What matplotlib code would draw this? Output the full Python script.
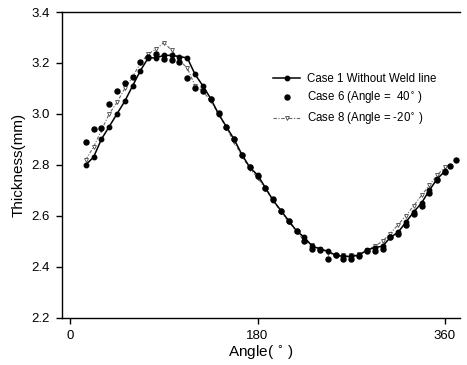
import numpy as np
import matplotlib.pyplot as plt

plt.rcParams['font.family'] = ['Liberation Sans', 'DejaVu Sans']

# thickness around the circumference, one point every 7.5 degrees
angle = [15, 22.5, 30, 37.5, 45, 52.5, 60, 67.5, 75, 82.5, 90, 97.5, 105,
         112.5, 120, 127.5, 135, 142.5, 150, 157.5, 165, 172.5, 180, 187.5,
         195, 202.5, 210, 217.5, 225, 232.5, 240, 247.5, 255, 262.5, 270,
         277.5, 285, 292.5, 300, 307.5, 315, 322.5, 330, 337.5, 345, 352.5, 360]

case1 = [2.80, 2.83, 2.90, 2.95, 3.00, 3.05, 3.11, 3.17, 3.22, 3.22, 3.23,
         3.23, 3.225, 3.22, 3.155, 3.11, 3.06, 3.00, 2.95, 2.90, 2.84, 2.79,
         2.76, 2.71, 2.66, 2.62, 2.58, 2.54, 2.515, 2.48, 2.47, 2.46, 2.445,
         2.44, 2.44, 2.445, 2.465, 2.475, 2.48, 2.515, 2.535, 2.575, 2.615,
         2.65, 2.70, 2.745, 2.775]

case8 = [2.82, 2.87, 2.935, 3.00, 3.045, 3.10, 3.145, 3.20, 3.235, 3.255,
         3.28, 3.25, 3.21, 3.18, 3.11, 3.09, 3.05, 3.00, 2.945, 2.89, 2.835,
         2.785, 2.75, 2.705, 2.66, 2.615, 2.575, 2.54, 2.50, 2.485, 2.47,
         2.455, 2.445, 2.445, 2.445, 2.45, 2.465, 2.48, 2.50, 2.53, 2.565,
         2.60, 2.64, 2.68, 2.72, 2.76, 2.79]

angle6 = angle + [365, 371]
case6 = [2.89, 2.94, 2.945, 3.04, 3.09, 3.12, 3.145, 3.205, 3.225, 3.235,
         3.215, 3.21, 3.205, 3.14, 3.10, 3.09, 3.06, 3.005, 2.95, 2.90, 2.84,
         2.79, 2.755, 2.71, 2.665, 2.62, 2.58, 2.54, 2.50, 2.47, 2.465, 2.43,
         2.445, 2.43, 2.43, 2.44, 2.46, 2.46, 2.47, 2.515, 2.53, 2.565, 2.605,
         2.64, 2.69, 2.74, 2.77, 2.795, 2.82]

fig = plt.figure(figsize=(4.67, 3.65), dpi=100)
ax = fig.add_axes([0.133, 0.13, 0.852, 0.837])

ax.plot(angle, case1, '-', color='black', lw=1.1, marker='o', ms=3.2,
        label='Case 1 Without Weld line', zorder=3)
ax.plot(angle6, case6, 'o', color='black', ms=3.6,
        label='Case 6 (Angle =  40$^{\\circ}$ )', zorder=4)
ax.plot(angle, case8, color='#666666', lw=0.8, ls=(0, (3, 1.5, 1, 1.5)),
        marker='v', ms=2.8, mfc='white', mec='#444444', mew=0.6,
        label='Case 8 (Angle = -20$^{\\circ}$ )', zorder=2)

ax.set_xlim(-7.7, 374.4)
ax.set_ylim(2.2, 3.4)
ax.set_xticks([0, 180, 360])
ax.set_yticks(np.arange(2.2, 3.41, 0.2))
ax.yaxis.set_major_formatter(plt.FormatStrFormatter('%.1f'))
ax.tick_params(direction='out', length=4, width=1, labelsize=9.5, pad=5)
ax.spines['right'].set_visible(False)
for s in ['left', 'top', 'bottom']:
    ax.spines[s].set_linewidth(1.0)

ax.set_xlabel('Angle( $^{\\circ}$ )', fontsize=11, labelpad=1)
ax.set_ylabel('Thickness(mm)', fontsize=11, labelpad=4)

ax.legend(loc='upper left', bbox_to_anchor=(0.505, 0.835), frameon=False,
          fontsize=8.3, handlelength=2.3, handletextpad=0.6, labelspacing=0.45)

fig.savefig('out.png', dpi=100)
